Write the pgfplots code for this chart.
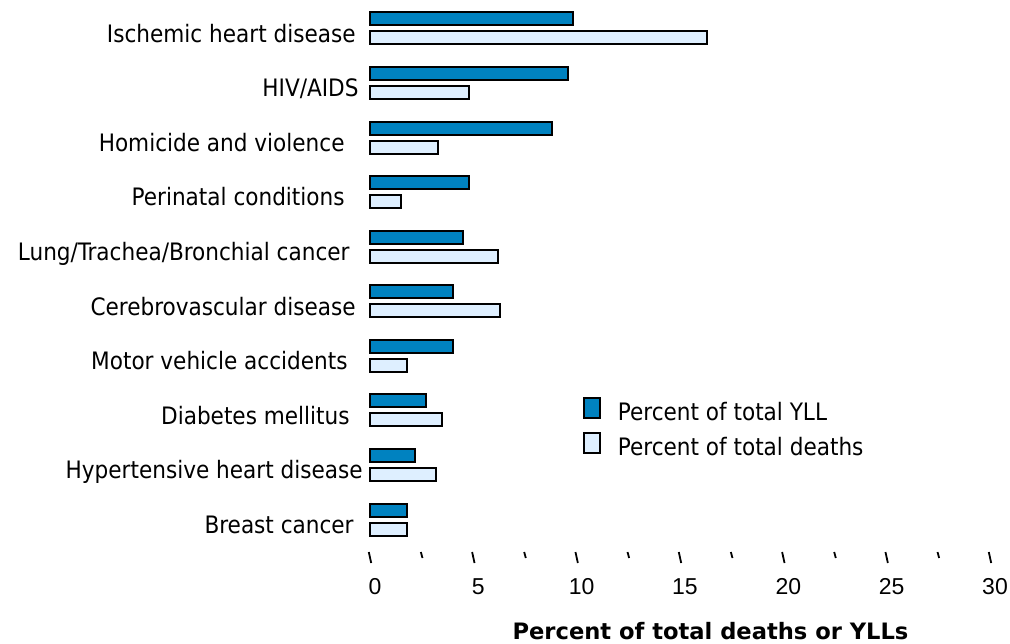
\documentclass[border=0pt]{standalone}
\usepackage{pgfplots}
\pgfplotsset{compat=1.18}
\usepackage{fontspec}
\setmainfont{DejaVu Sans Condensed}
\newfontfamily\tickf{Liberation Sans}
\newfontfamily\titlef{DejaVu Sans}
\definecolor{yll}{RGB}{0,130,192}
\definecolor{dth}{RGB}{222,239,255}
\begin{document}
\begin{tikzpicture}
\begin{axis}[
  scale only axis,
  width=310pt, height=272.8pt,
  xmin=0, xmax=30,
  ymin=-0.5, ymax=9.5,
  y dir=reverse,
  xbar, bar width=6.5pt,
  axis line style={draw=none},
  major tick length=0pt,
  xtick={0,5,...,30},
  ytick={0,...,9},
  yticklabels={
    Ischemic heart disease,
    HIV/AIDS\hspace*{-1.5pt},
    Homicide and violence\hspace*{5.5pt},
    Perinatal conditions\hspace*{5.5pt},
    Lung/Trachea/Bronchial cancer\hspace*{3pt},
    Cerebrovascular disease,
    Motor vehicle accidents\hspace*{4pt},
    Diabetes mellitus\hspace*{3pt},
    Hypertensive heart disease\hspace*{-3.5pt},
    Breast cancer\hspace*{1pt}},
  yticklabel style={anchor=east, inner sep=0pt, xshift=-7pt, yshift=-2.5pt,
    text height=8.8pt, text depth=0pt, font=\fontsize{12}{14}\selectfont},
  /pgf/number format/assume math mode=true,
  xticklabel style={anchor=north, inner sep=0pt, yshift=-15.5pt, xshift=2.5pt,
    font=\tickf\fontsize{11.5}{13}\selectfont},
  legend style={at={(0.3435,0.2746)}, anchor=north west, draw=none, fill=none,
    inner sep=0pt, outer sep=0pt, row sep=5.8pt, column sep=8.5pt,
    font=\fontsize{12}{14}\selectfont,
    nodes={inner sep=0pt, text height=8.8pt, text depth=0pt}},
  legend cell align=left,
  legend image code/.code={\draw[#1, line width=1pt] (0pt,-3.25pt) rectangle (8pt,6.75pt);},
  clip=false,
]
\addplot[draw=black, line width=1pt, fill=yll, bar shift=4.75pt] coordinates {
  (9.8,0) (9.6,1) (8.8,2) (4.8,3) (4.5,4) (4.0,5) (4.0,6) (2.7,7) (2.2,8) (1.8,9)};
\addlegendentry{Percent of total YLL}
\addplot[draw=black, line width=1pt, fill=dth, bar shift=-4.75pt] coordinates {
  (16.3,0) (4.8,1) (3.3,2) (1.5,3) (6.2,4) (6.3,5) (1.8,6) (3.5,7) (3.2,8) (1.8,9)};
\addlegendentry{Percent of total deaths}
\pgfplotsinvokeforeach{0,5,...,30}{
  \draw[line width=0.9pt] ([xshift=-0.6pt,yshift=-2.6pt]axis cs:#1,9.5) -- ([xshift=0.6pt,yshift=-8.1pt]axis cs:#1,9.5);
}
\pgfplotsinvokeforeach{2.5,7.5,...,27.5}{
  \draw[line width=0.9pt] ([xshift=-0.4pt,yshift=-2.6pt]axis cs:#1,9.5) -- ([xshift=0.4pt,yshift=-5.6pt]axis cs:#1,9.5);
}
\coordinate (O) at (axis cs:0,9.5);
\end{axis}
\node[anchor=north, inner sep=0pt, text height=8.3pt, font=\titlef\bfseries\fontsize{11.3}{13}\selectfont]
  at ([xshift=170.25pt,yshift=-38pt]O) {Percent of total deaths or YLLs};
\pgfresetboundingbox
\path ([xshift=-185pt,yshift=-48.1pt]O) rectangle ([xshift=320pt,yshift=273.4pt]O);
\end{tikzpicture}
\end{document}
